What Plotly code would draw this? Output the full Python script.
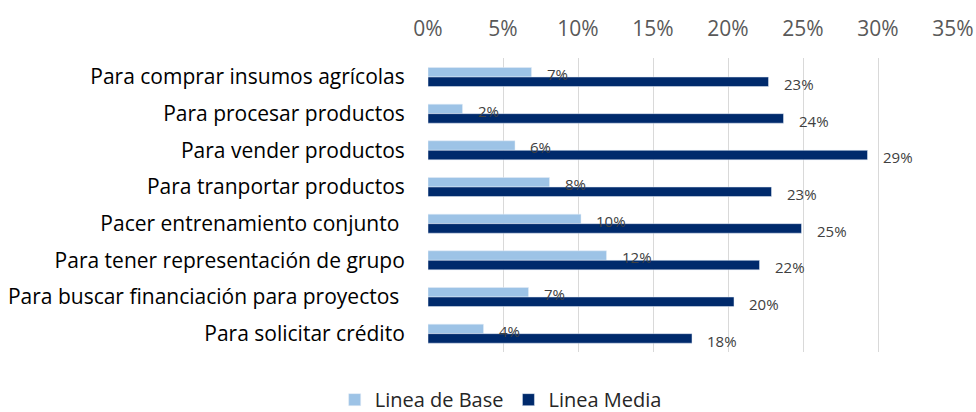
import plotly.graph_objects as go

categorias = [
    "Para comprar insumos agrícolas",
    "Para procesar productos",
    "Para vender productos",
    "Para tranportar productos",
    "Pacer entrenamiento conjunto\u00a0",
    "Para tener representación de grupo",
    "Para buscar financiación para proyectos\u00a0",
    "Para solicitar crédito",
]
linea_base  = [0.069, 0.023, 0.058, 0.081, 0.102, 0.119, 0.067, 0.037]
linea_media = [0.227, 0.237, 0.293, 0.229, 0.249, 0.221, 0.204, 0.176]

tick_vals   = [0, 0.05, 0.10, 0.15, 0.20, 0.25, 0.30, 0.35]
tick_text   = ["0%", "5%", "10%", "15%", "20%", "25%", "30%", "35%"]

C_BASE  = "#9dc3e6"
C_MEDIA = "#002a6c"
FONT    = "Open Sans"

fig = go.Figure()
fig.add_trace(go.Bar(
    y=categorias, x=linea_base, orientation="h",
    name="Linea de Base", marker_color=C_BASE,
))
fig.add_trace(go.Bar(
    y=categorias, x=linea_media, orientation="h",
    name="Linea Media", marker_color=C_MEDIA,
))

# etiquetas de datos (estilo Excel, desplazadas a la derecha del extremo)
for vals, dy in ((linea_base, 3), (linea_media, -7)):
    for cat, v in zip(categorias, vals):
        fig.add_annotation(
            x=v, y=cat, text=f"{v:.0%}", showarrow=False,
            xanchor="left", xshift=13, yshift=dy,
            font=dict(family=FONT, size=15, color="#404040"),
        )

fig.update_layout(
    width=976, height=412,
    barmode="group", bargap=0.48, bargroupgap=0,
    plot_bgcolor="white", paper_bgcolor="white",
    margin=dict(l=428, r=23, t=58, b=60),
    font=dict(family=FONT, size=21, color="#000000"),
    xaxis=dict(
        side="top", range=[0, 0.35], automargin=False,
        tickvals=tick_vals, ticktext=tick_text,
        tickfont=dict(size=21, color="#595959"),
        showgrid=True, gridcolor="#d9d9d9", gridwidth=1,
        zeroline=False, showline=False,
        ticks="outside", ticklen=13, tickcolor="rgba(0,0,0,0)",
    ),
    yaxis=dict(
        autorange="reversed", showgrid=False, showline=False,
        automargin=False,
        ticks="outside", ticklen=18, tickcolor="rgba(0,0,0,0)",
        tickfont=dict(size=21, color="#000000"),
    ),
    legend=dict(
        orientation="h", xref="container", yref="container",
        x=0.513, xanchor="center", y=0.03, yanchor="middle",
        font=dict(size=20, color="#262626"),
    ),
)

# quitar el margen por defecto del <body> para que la figura quede en (0, 0)
fig.write_html(
    "out.html",
    config={"displayModeBar": False},
    post_script="document.body.style.margin='0';",
)
